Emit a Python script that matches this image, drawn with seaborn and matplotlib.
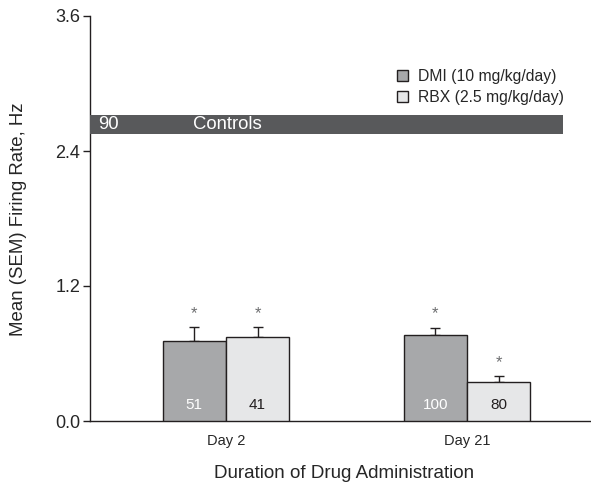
import pandas as pd
import matplotlib.pyplot as plt
import seaborn as sns
from matplotlib.patches import Patch


# values
days = ["Day 2", "Day 21"]
drugs = ["DMI (10 mg/kg/day)", "RBX (2.5 mg/kg/day)"]
dmi_mean = [0.714, 0.762]
dmi_sem = [0.124, 0.068]
dmi_n = [51, 100]
rbx_mean = [0.749, 0.350]
rbx_sem = [0.084, 0.050]
rbx_n = [41, 80]
control_mean = 2.635
control_sem = 0.085
control_n = 90

df = pd.DataFrame({
    "day": days + days,
    "drug": [drugs[0]] * 2 + [drugs[1]] * 2,
    "rate": dmi_mean + rbx_mean,
    "sem": dmi_sem + rbx_sem,
    "n": dmi_n + rbx_n,
})

sns.set_style("white")
plt.rcParams['font.family'] = ['Liberation Sans', 'DejaVu Sans']

fig = plt.figure(figsize=(5.91, 4.83), dpi=100)
ax = fig.add_axes([90 / 591, 1 - 421 / 483, 1 - 90 / 591, 405 / 483])

colors = ["#a7a8aa", "#e6e7e8"]
sns.barplot(data=df, x="day", y="rate", hue="drug", palette=colors,
            width=0.525, edgecolor="#231f20", linewidth=1, errorbar=None,
            legend=False, ax=ax, zorder=3)

# error bars (upper half only), asterisks and n inside bars
text_colors = ["white", "#231f20"]
bar_conts = list(ax.containers)
for i, cont in enumerate(bar_conts):
    sub = df[df["drug"] == drugs[i]]
    for bar, m, s, n in zip(cont, sub["rate"], sub["sem"], sub["n"]):
        xc = bar.get_x() + bar.get_width() / 2
        ax.errorbar(xc, m, yerr=[[0], [s]], fmt="none", ecolor="#231f20",
                    elinewidth=1, capsize=3.3, capthick=1, zorder=2)
        ax.text(xc, m + s + 0.12, "*", ha="center", va="center",
                fontsize=12, color="#6d6e70")
        ax.text(xc, 0.14, str(n), ha="center", va="center",
                fontsize=11, color=text_colors[i], zorder=4)

# controls band
ax.fill_between([-0.564, 1.398], control_mean - control_sem,
                control_mean + control_sem, color="#58595b", lw=0, zorder=3)
ax.text(-0.531, control_mean, str(control_n), color="white", fontsize=13.3,
        va="center", ha="left", zorder=4)
ax.text(-0.137, control_mean, "Controls", color="white", fontsize=13.3,
        va="center", ha="left", zorder=4)

ax.set_xlim(-0.564, 1.515)
ax.set_ylim(0, 3.6)
ax.set_yticks([0, 1.2, 2.4, 3.6])
ax.set_yticklabels(["0.0", "1.2", "2.4", "3.6"])
ax.tick_params(axis="y", direction="out", length=5, width=1, labelsize=13,
               left=True, pad=2, color="#231f20")
ax.tick_params(axis="x", length=0, labelsize=10.5, pad=9)

for side in ["top", "right"]:
    ax.spines[side].set_visible(False)
for side in ["left", "bottom"]:
    ax.spines[side].set_color("#231f20")
    ax.spines[side].set_linewidth(1)

ax.set_ylabel("Mean (SEM) Firing Rate, Hz", fontsize=13.4, va="center")
ax.yaxis.set_label_coords(-0.1427, 0.499)
ax.set_xlabel("Duration of Drug Administration", fontsize=13.5, va="center")
ax.xaxis.set_label_coords(0.507, -0.13)

handles = [Patch(facecolor=c, edgecolor="#231f20", linewidth=1) for c in colors]
ax.legend(handles, drugs, frameon=False, fontsize=11.3, loc="upper left",
          bbox_to_anchor=(0.613, 0.869), handlelength=0.7, handleheight=0.7,
          handletextpad=0.64, labelspacing=0.35, borderpad=0, borderaxespad=0)

plt.savefig("out.png", dpi=100)
